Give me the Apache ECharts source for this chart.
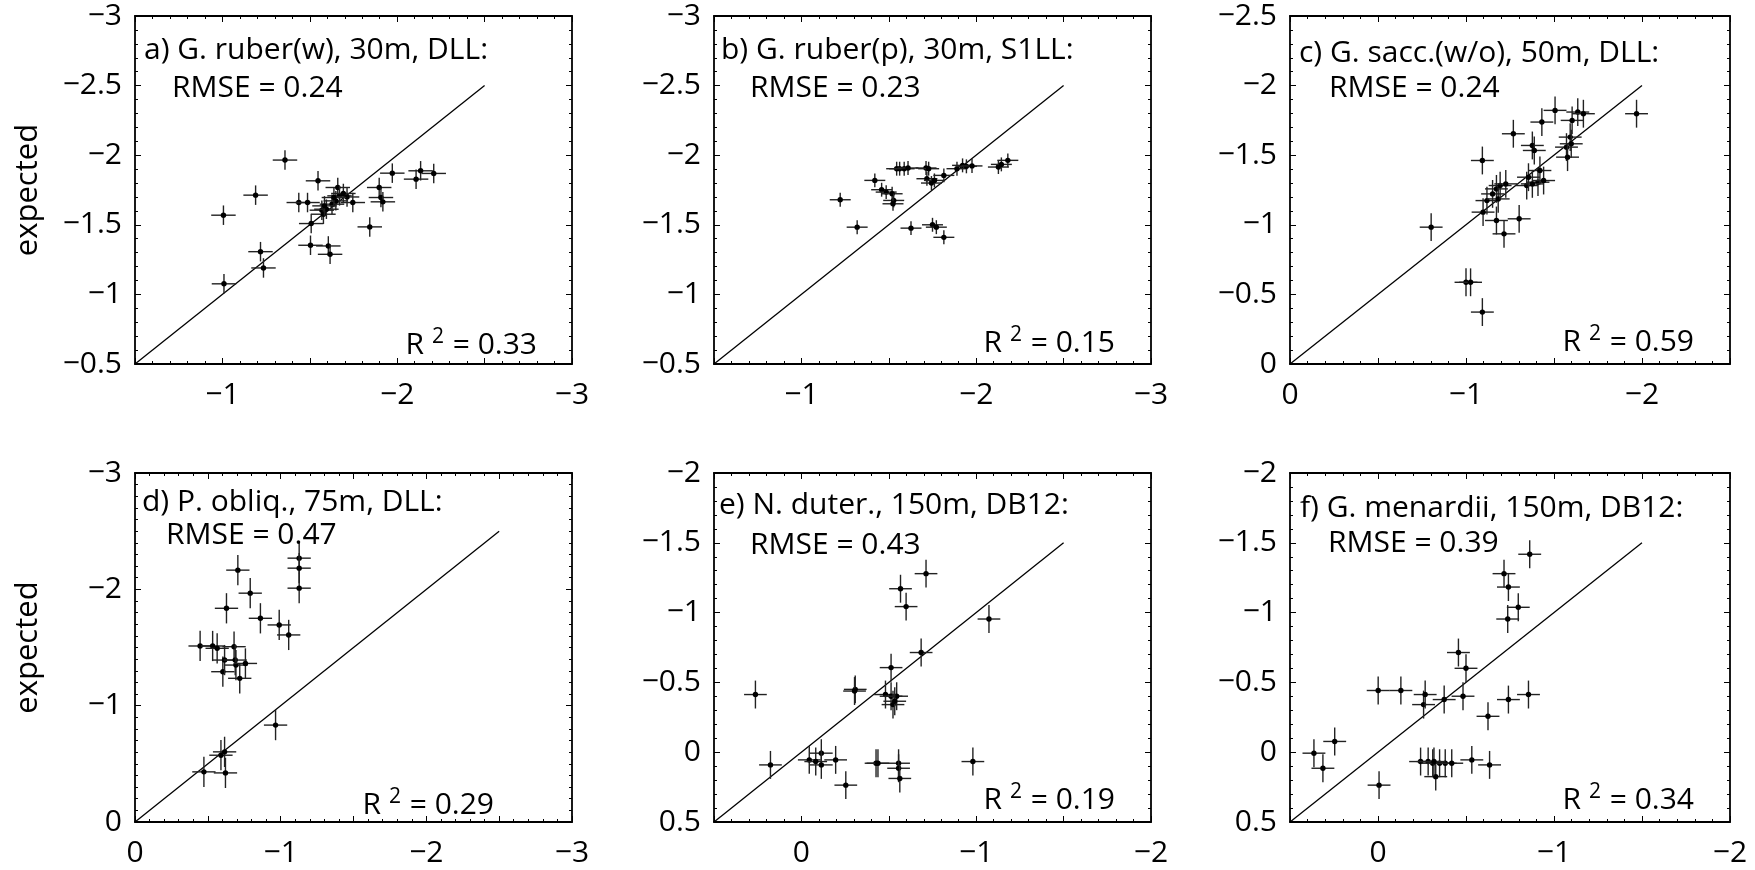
<!DOCTYPE html>
<html>
<head>
<meta charset="utf-8">
<script src="https://cdn.jsdelivr.net/npm/echarts@6/dist/echarts.min.js"></script>
<style>
html,body{margin:0;padding:0;background:#fff;}
#chart{width:1755px;height:870px;}
</style>
</head>
<body>
<div id="chart"></div>
<script>
// ---------------- data ----------------
const panelTitles = ['a) G. ruber(w), 30m, DLL:', 'b) G. ruber(p), 30m, S1LL:', 'c) G. sacc.(w/o), 50m, DLL:',
  'd) P. obliq., 75m, DLL:', 'e) N. duter., 150m, DB12:', 'f) G. menardii, 150m, DB12:'];
const rmseValues = ['0.24', '0.23', '0.24', '0.47', '0.43', '0.39'];
const r2Values = ['0.33', '0.15', '0.59', '0.29', '0.19', '0.34'];
const yAxisName = 'expected';

// axis ranges (value at the low/high numeric end) and label intervals
const axisMin = [-3, -3, -2.5, -3, -2, -2];
const axisMax = [-0.5, -0.5, 0, 0, 0.5, 0.5];
const yInterval = [0.5, 0.5, 0.5, 1, 0.5, 0.5];
// 1:1 reference line end points
const diagStart = [-0.5, -0.5, 0, 0, 0.5, 0.5];
const diagEnd = [-2.5, -2.5, -2, -2.5, -1.5, -1.5];
// error bar half-widths per panel
const errX = [0.07, 0.06, 0.065, 0.08, 0.065, 0.065];
const errY = [0.07, 0.05, 0.10, 0.13, 0.10, 0.10];

// panel a
const aX = [-1.006, -1.009, -1.19, -1.218, -1.235, -1.358, -1.437, -1.487, -1.508, -1.504, -1.547, -1.569, -1.578, -1.595, -1.606, -1.616, -1.627, -1.649, -1.66, -1.67, -1.692, -1.713, -1.746, -1.843, -1.897, -1.907, -1.918, -1.972, -2.108, -2.134, -2.209, -1.638, -1.584];
const aY = [-1.569, -1.076, -1.713, -1.307, -1.19, -1.965, -1.66, -1.66, -1.509, -1.353, -1.816, -1.605, -1.576, -1.612, -1.348, -1.288, -1.648, -1.672, -1.768, -1.708, -1.725, -1.70, -1.66, -1.485, -1.768, -1.696, -1.665, -1.871, -1.828, -1.888, -1.869, -1.696, -1.636];
// panel b
const bX = [-1.222, -1.319, -1.42, -1.459, -1.485, -1.519, -1.528, -1.545, -1.562, -1.588, -1.61, -1.627, -1.713, -1.728, -1.718, -1.744, -1.75, -1.772, -1.815, -1.815, -1.89, -1.922, -1.944, -1.976, -2.127, -2.144, -2.181, -1.761, -1.524];
const bY = [-1.68, -1.483, -1.819, -1.752, -1.735, -1.723, -1.675, -1.903, -1.903, -1.903, -1.908, -1.476, -1.908, -1.903, -1.831, -1.80, -1.50, -1.483, -1.41, -1.855, -1.903, -1.927, -1.92, -1.923, -1.915, -1.934, -1.963, -1.819, -1.651];
// panel c
const cX = [-0.802, -1.0, -1.026, -1.093, -1.093, -1.097, -1.119, -1.151, -1.173, -1.183, -1.173, -1.194, -1.216, -1.226, -1.269, -1.302, -1.345, -1.355, -1.377, -1.388, -1.409, -1.42, -1.431, -1.506, -1.571, -1.577, -1.592, -1.603, -1.635, -1.667, -1.598, -1.969, -1.377, -1.441];
const cY = [-0.983, -0.587, -0.587, -0.373, -1.462, -1.091, -1.174, -1.222, -1.258, -1.186, -1.031, -1.282, -0.935, -1.294, -1.654, -1.043, -1.282, -1.342, -1.57, -1.534, -1.306, -1.39, -1.738, -1.822, -1.558, -1.486, -1.63, -1.75, -1.81, -1.798, -1.582, -1.798, -1.294, -1.318];
// panel d
const dX = [-0.447, -0.533, -0.564, -0.473, -0.59, -0.615, -0.621, -0.603, -0.615, -0.628, -0.68, -0.688, -0.693, -0.706, -0.719, -0.758, -0.791, -0.861, -0.965, -0.99, -1.055, -1.127, -1.127, -1.127];
const dY = [-1.513, -1.513, -1.493, -0.431, -0.574, -0.603, -0.422, -1.292, -1.392, -1.837, -1.507, -1.392, -1.349, -2.165, -1.235, -1.363, -1.967, -1.751, -0.833, -1.694, -1.608, -2.268, -2.182, -2.01];
// panel e
const eX = [0.263, 0.177, -0.045, -0.082, -0.114, -0.114, -0.196, -0.254, -0.308, -0.304, -0.427, -0.438, -0.481, -0.513, -0.513, -0.524, -0.545, -0.556, -0.556, -0.563, -0.567, -0.599, -0.685, -0.713, -0.981, -1.073, -0.534];
const eY = [-0.413, 0.091, 0.055, 0.067, 0.007, 0.091, 0.055, 0.236, -0.45, -0.438, 0.079, 0.079, -0.413, -0.606, -0.401, -0.341, -0.401, 0.079, 0.115, 0.188, -1.171, -1.043, -0.714, -1.279, 0.067, -0.954, -0.365];
// panel f
const fX = [0.364, 0.313, 0.246, -0.001, -0.006, -0.13, -0.242, -0.259, -0.268, -0.285, -0.311, -0.328, -0.35, -0.376, -0.382, -0.419, -0.457, -0.483, -0.5, -0.533, -0.625, -0.634, -0.716, -0.741, -0.737, -0.797, -0.741, -0.855, -0.862, -0.318];
const fY = [0.007, 0.115, -0.077, -0.442, 0.236, -0.442, 0.067, -0.341, -0.413, 0.067, 0.079, 0.175, 0.079, -0.377, 0.079, 0.079, -0.714, -0.401, -0.601, 0.055, -0.257, 0.091, -1.279, -1.183, -0.954, -1.038, -0.377, -0.413, -1.418, 0.067];

const panelX = [aX, bX, cX, dX, eX, fX];
const panelY = [aY, bY, cY, dY, eY, fY];

// ---------------- layout ----------------
const FONT = 'Open Sans';
const FS = 30;      // tick labels
const TFS = 30;     // in-panel texts
const colLeft = [135, 714, 1290];
const colWidth = [437, 437, 440];
const rowTop = [16, 473];
const rowHeight = [348, 349];
// text offsets inside each panel: [titleDx, titleDy, rmseDx, rmseDy, r2RightDx, r2BottomDy]
const textPos = [
  [9, 34, 37, 72, 35, 19],
  [7, 34, 36, 72, 36, 21],
  [9, 37, 39, 72, 36, 22],
  [7, 29, 31, 62, 78, 17],
  [5, 32, 36, 72, 36, 22],
  [10, 35, 38, 70, 36, 22]
];

function fmt(v) {
  const r = Math.round(v * 100) / 100;
  if (Math.abs(r) < 1e-9) return '0';
  return (r < 0 ? '\u2212' : '') + String(Math.abs(r));
}
function isInt(v) { return Math.abs(v - Math.round(v)) < 1e-6; }

const grids = [], xAxes = [], yAxes = [], series = [], graphics = [];
const lineStyle = { color: '#000', width: 1.8 };

for (let i = 0; i < 6; i++) {
  const col = i % 3, row = Math.floor(i / 3);
  const L = colLeft[col], T = rowTop[row], W = colWidth[col], H = rowHeight[row];
  grids.push({ left: L, top: T, width: W, height: H, containLabel: false, outerBoundsMode: 'none' });
  const common = {
    type: 'value', gridIndex: i, min: axisMin[i], max: axisMax[i], inverse: true,
    axisLine: { show: true, onZero: false, lineStyle: lineStyle },
    splitLine: { show: false },
    axisTick: { show: true, inside: true, length: 6, lineStyle: { color: '#000', width: 1 } },
    minorTick: { show: true, splitNumber: 5, length: 3, lineStyle: { color: '#000', width: 1 } }
  };
  xAxes.push(Object.assign({}, common, {
    position: 'bottom', interval: 0.5,
    axisLabel: { show: true, margin: 16, color: '#000', fontFamily: FONT, fontSize: FS,
      formatter: v => isInt(v) ? fmt(v) : '', showMinLabel: true, showMaxLabel: true }
  }));
  xAxes.push(Object.assign({}, common, { position: 'top', interval: 0.5, axisLabel: { show: false } }));
  const yMinor = yInterval[i] === 1 ? 10 : 5;
  yAxes.push(Object.assign({}, common, {
    position: 'left', interval: yInterval[i],
    minorTick: Object.assign({}, common.minorTick, { splitNumber: yMinor }),
    axisLabel: { show: true, margin: 13, color: '#000', fontFamily: FONT, fontSize: FS, formatter: v => fmt(v),
      showMinLabel: true, showMaxLabel: true }
  }));
  yAxes.push(Object.assign({}, common, {
    position: 'right', interval: yInterval[i],
    minorTick: Object.assign({}, common.minorTick, { splitNumber: yMinor }),
    axisLabel: { show: false }
  }));

  // 1:1 line
  series.push({
    type: 'line', xAxisIndex: 2 * i, yAxisIndex: 2 * i, symbol: 'none', silent: true,
    lineStyle: { color: '#000', width: 1.3 }, z: 2,
    data: [[diagStart[i], diagStart[i]], [diagEnd[i], diagEnd[i]]]
  });
  // points with error bars
  const pts = panelX[i].map((x, k) => [x, panelY[i][k], errX[i], errY[i]]);
  series.push({
    type: 'custom', xAxisIndex: 2 * i, yAxisIndex: 2 * i, z: 3, silent: true,
    dimensions: ['obs', 'exp', 'ex', 'ey'], encode: { x: 0, y: 1 },
    data: pts,
    renderItem: function (params, api) {
      const x = api.value(0), y = api.value(1), ex = api.value(2), ey = api.value(3);
      const c = api.coord([x, y]);
      const l = api.coord([x + ex, y]), r = api.coord([x - ex, y]);
      const t = api.coord([x, y - ey]), b = api.coord([x, y + ey]);
      const st = { stroke: '#222', lineWidth: 1.4 };
      return {
        type: 'group', children: [
          { type: 'line', shape: { x1: l[0], y1: l[1], x2: r[0], y2: r[1] }, style: st },
          { type: 'line', shape: { x1: t[0], y1: t[1], x2: b[0], y2: b[1] }, style: st },
          { type: 'circle', shape: { cx: c[0], cy: c[1], r: 2.7 }, style: { fill: '#000' } }
        ]
      };
    }
  });

  // texts
  const p = textPos[i];
  const tStyle = { fontFamily: FONT, fontSize: TFS, fill: '#000' };
  graphics.push({ type: 'text', x: L + p[0], y: T + p[1], z: 10,
    style: Object.assign({ text: panelTitles[i], textVerticalAlign: 'middle', textAlign: 'left' }, tStyle) });
  graphics.push({ type: 'text', x: L + p[2], y: T + p[3], z: 10,
    style: Object.assign({ text: 'RMSE = ' + rmseValues[i], textVerticalAlign: 'middle', textAlign: 'left' }, tStyle) });
  graphics.push({ type: 'text', x: L + W - p[4], y: T + H - p[5], z: 10,
    style: Object.assign({ text: '{r|R }{s|2}{r| = ' + r2Values[i] + '}', textAlign: 'right', textVerticalAlign: 'middle',
      rich: { r: { fontFamily: FONT, fontSize: TFS, lineHeight: 34 }, s: { fontFamily: FONT, fontSize: 21, padding: [0, 1, 16, 0], lineHeight: 34 } } }, tStyle) });
}
// y axis names
for (let row = 0; row < 2; row++) {
  graphics.push({ type: 'text', x: 28, y: rowTop[row] + rowHeight[row] / 2, rotation: Math.PI / 2,
    style: { text: yAxisName, fontFamily: FONT, fontSize: 31, fill: '#000', textAlign: 'center', textVerticalAlign: 'middle' } });
}

const chart = echarts.init(document.getElementById('chart'), null, { renderer: 'canvas' });
chart.setOption({
  animation: false,
  backgroundColor: '#fff',
  grid: grids, xAxis: xAxes, yAxis: yAxes, series: series, graphic: graphics
});
</script>
</body>
</html>
